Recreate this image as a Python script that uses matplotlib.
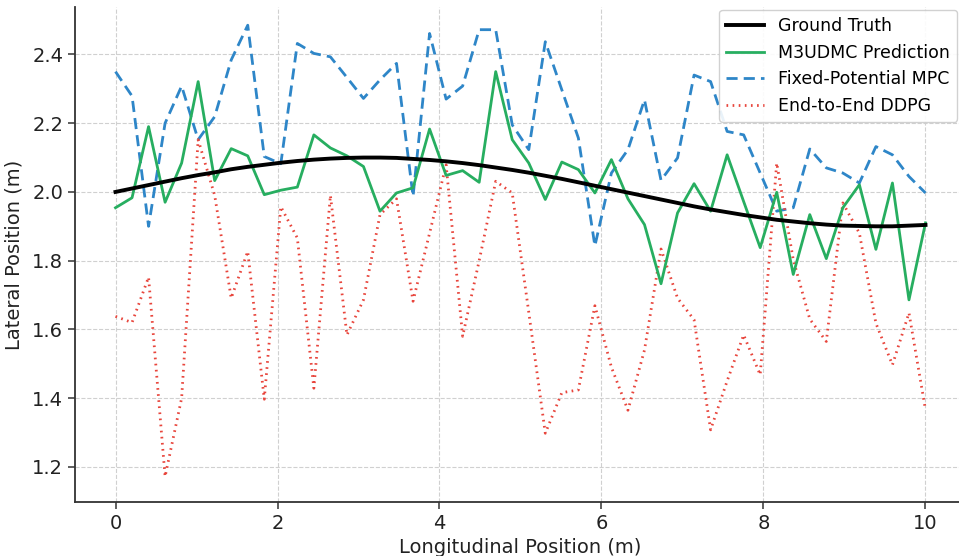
import numpy as np
import matplotlib
matplotlib.use("Agg")
import matplotlib.pyplot as plt

x = np.linspace(0, 10, 50)

ground_truth = [2.000, 2.010, 2.020, 2.030, 2.040, 2.049, 2.057, 2.066, 2.073, 2.079,
                2.085, 2.090, 2.094, 2.097, 2.099, 2.100, 2.100, 2.099, 2.096, 2.093,
                2.089, 2.084, 2.078, 2.071, 2.064, 2.056, 2.047, 2.038, 2.028, 2.018,
                2.008, 1.998, 1.988, 1.978, 1.968, 1.958, 1.949, 1.941, 1.933, 1.926,
                1.919, 1.914, 1.909, 1.905, 1.902, 1.901, 1.900, 1.900, 1.902, 1.904]

m3udmc = [1.954, 1.983, 2.190, 1.970, 2.084, 2.321, 2.033, 2.126, 2.105, 1.992,
          2.005, 2.014, 2.166, 2.128, 2.105, 2.074, 1.944, 1.997, 2.012, 2.183,
          2.048, 2.062, 2.028, 2.350, 2.152, 2.084, 1.978, 2.087, 2.065, 1.997,
          2.094, 1.980, 1.905, 1.733, 1.939, 2.024, 1.944, 2.108, 1.972, 1.838,
          1.999, 1.760, 1.934, 1.806, 1.954, 2.021, 1.833, 2.026, 1.686, 1.910]

fixed_mpc = [2.350, 2.279, 1.900, 2.200, 2.308, 2.152, 2.219, 2.384, 2.485, 2.103,
             2.082, 2.432, 2.403, 2.393, 2.333, 2.272, 2.326, 2.374, 1.987, 2.461,
             2.270, 2.308, 2.472, 2.472, 2.195, 2.123, 2.437, 2.297, 2.157, 1.843,
             2.055, 2.123, 2.268, 2.034, 2.099, 2.340, 2.321, 2.176, 2.166, 2.055,
             1.944, 1.954, 2.125, 2.070, 2.055, 2.026, 2.132, 2.108, 2.045, 1.997]

ddpg = [1.638, 1.620, 1.752, 1.172, 1.400, 2.152, 1.990, 1.691, 1.827, 1.397,
        1.957, 1.866, 1.429, 1.990, 1.584, 1.686, 1.934, 1.980, 1.682, 1.880,
        2.079, 1.580, 1.800, 2.031, 1.997, 1.650, 1.298, 1.416, 1.424, 1.669,
        1.490, 1.365, 1.540, 1.834, 1.691, 1.628, 1.308, 1.450, 1.584, 1.468,
        2.084, 1.803, 1.630, 1.565, 1.968, 1.880, 1.618, 1.497, 1.648, 1.366]

labels = ["Ground Truth", "M3UDMC Prediction", "Fixed-Potential MPC", "End-to-End DDPG"]

W, H = 959, 556
fig = plt.figure(figsize=(W / 100, H / 100), dpi=100)
ax = fig.add_axes([75 / W, 1 - 502 / H, (966 - 75) / W, (502 - 7) / H])

ax.plot(x, ground_truth, color="black", lw=2.8, label=labels[0], zorder=4)
ax.plot(x, m3udmc, color="#27ae60", lw=2.0, label=labels[1], zorder=3)
ax.plot(x, fixed_mpc, color="#2e86c8", lw=2.0, ls=(0, (4, 2.2)), label=labels[2], zorder=2)
ax.plot(x, ddpg, color="#e8453c", lw=2.0, ls=(0, (0.6, 1.6)), label=labels[3], zorder=2)

ax.set_xlim(-0.5, 10.5)
ax.set_ylim(1.098, 2.538)
ax.set_xticks([0, 2, 4, 6, 8, 10])
ax.set_yticks([1.2, 1.4, 1.6, 1.8, 2.0, 2.2, 2.4])

ax.grid(True, ls="--", color="#d0d0d0", lw=0.8)
ax.set_axisbelow(True)
for s in ["top", "right"]:
    ax.spines[s].set_visible(False)
for s in ["left", "bottom"]:
    ax.spines[s].set_color("#333333")
    ax.spines[s].set_linewidth(1.3)
ax.tick_params(axis="both", labelsize=14, colors="#333333", length=5, width=1.1,
               labelcolor="#222222")

ax.set_xlabel("Longitudinal Position (m)", fontsize=14, color="#222222", labelpad=4)
ax.set_ylabel("Lateral Position (m)", fontsize=14, color="#222222", labelpad=6)

leg = ax.legend(loc="upper right", bbox_to_anchor=(957 / W, 1 - 10 / H),
                bbox_transform=fig.transFigure, borderaxespad=0, fontsize=12.5,
                framealpha=0.9, edgecolor="#cccccc", handlelength=2.2)

fig.savefig("out.png", dpi=100)
